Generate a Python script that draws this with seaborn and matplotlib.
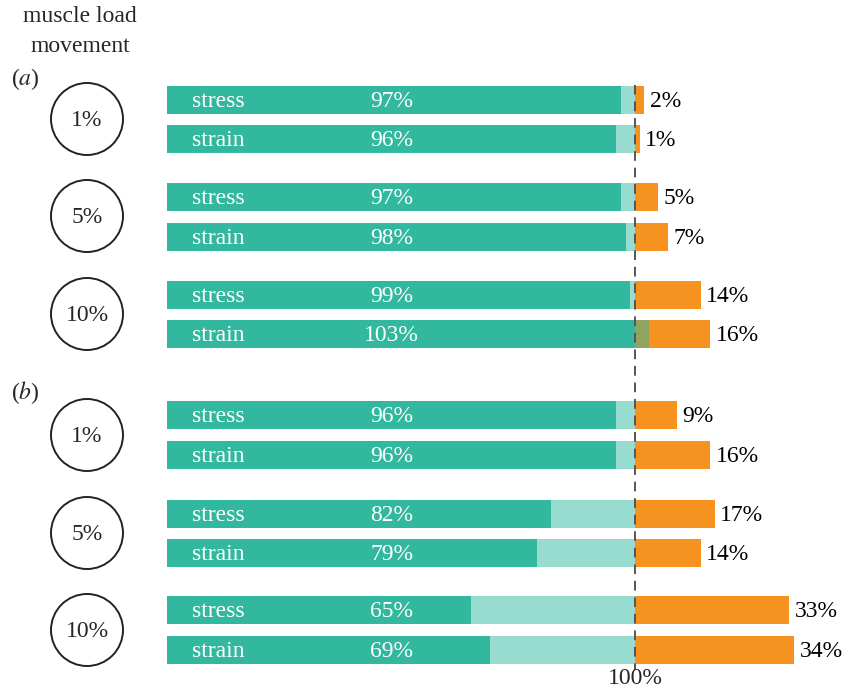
import matplotlib.pyplot as plt
import seaborn as sns
from matplotlib.patches import Ellipse

# values (percent)
panels = ['a', 'a', 'a', 'a', 'a', 'a', 'b', 'b', 'b', 'b', 'b', 'b']
movement = ['1%', '1%', '5%', '5%', '10%', '10%', '1%', '1%', '5%', '5%', '10%', '10%']
measure = ['stress', 'strain'] * 6
load_pct = [97, 96, 97, 98, 99, 103, 96, 96, 82, 79, 65, 69]
over_pct = [2, 1, 5, 7, 14, 16, 9, 16, 17, 14, 33, 34]

# layout (pixel rows)
row_y = [100, 139, 197, 237, 295, 334, 415, 455, 514, 553, 610, 650]
bar_h = 28

c_green = '#32b89e'
c_light = '#98dccf'
c_orange = '#f69320'
c_olive = '#8fa45f'

sns.set_theme(style='white')
plt.rcParams['font.family'] = ['Liberation Serif', 'DejaVu Serif']
plt.rcParams['mathtext.fontset'] = 'stix'
fs = 17

fig = plt.figure(figsize=(8.48, 6.88), dpi=100)
ax = fig.add_axes([0, 0, 1, 1])
px = 4.68  # pixels per percent
ax.set_xlim(-167 / px, (848 - 167) / px)
ax.set_ylim(688, 0)
ax.axis('off')

for y, g, o, m in zip(row_y, load_pct, over_pct, measure):
    ax.barh(y, min(g, 100), height=bar_h, left=0, color=c_green, lw=0)
    if g < 100:
        ax.barh(y, 100 - g, height=bar_h, left=g, color=c_light, lw=0)
    else:
        ax.barh(y, g - 100, height=bar_h, left=100, color=c_olive, lw=0)
    ax.barh(y, 100 + o - max(g, 100), height=bar_h, left=max(g, 100), color=c_orange, lw=0)
    ax.text(5.3, y + 1.5, m, color='white', fontsize=fs, ha='left', va='center')
    ax.text(48, y + 1.5, f'{g}%', color='white', fontsize=fs, ha='center', va='center')
    ax.text(100 + o + 1.2, y + 1.5, f'{o}%', color='black', fontsize=fs, ha='left', va='center')

# dashed 100% reference
ax.plot([100, 100], [85, 670], color='#555555', lw=1.4, ls=(0, (5, 3.5)))
ax.text(100, 679, '100%', fontsize=fs, ha='center', va='center')

# movement circles
circle_y = [119, 216, 314, 435, 533, 630]
circle_lab = ['1%', '5%', '10%', '1%', '5%', '10%']
cx = (87 - 167) / px
for cy, lab in zip(circle_y, circle_lab):
    ax.add_patch(Ellipse((cx, cy), 72 / px, 72, fill=False, ec='#222222', lw=1.4))
    ax.text(cx, cy + 1.5, lab, fontsize=fs, ha='center', va='center')

ax.text((80 - 167) / px, 16, 'muscle load', fontsize=fs, ha='center', va='center')
ax.text((80 - 167) / px, 46, 'movement', fontsize=fs, ha='center', va='center')
ax.text((25 - 167) / px, 79, '($a$)', fontsize=fs, ha='center', va='center')
ax.text((25 - 167) / px, 393, '($b$)', fontsize=fs, ha='center', va='center')

fig.savefig('out.png', dpi=100)
